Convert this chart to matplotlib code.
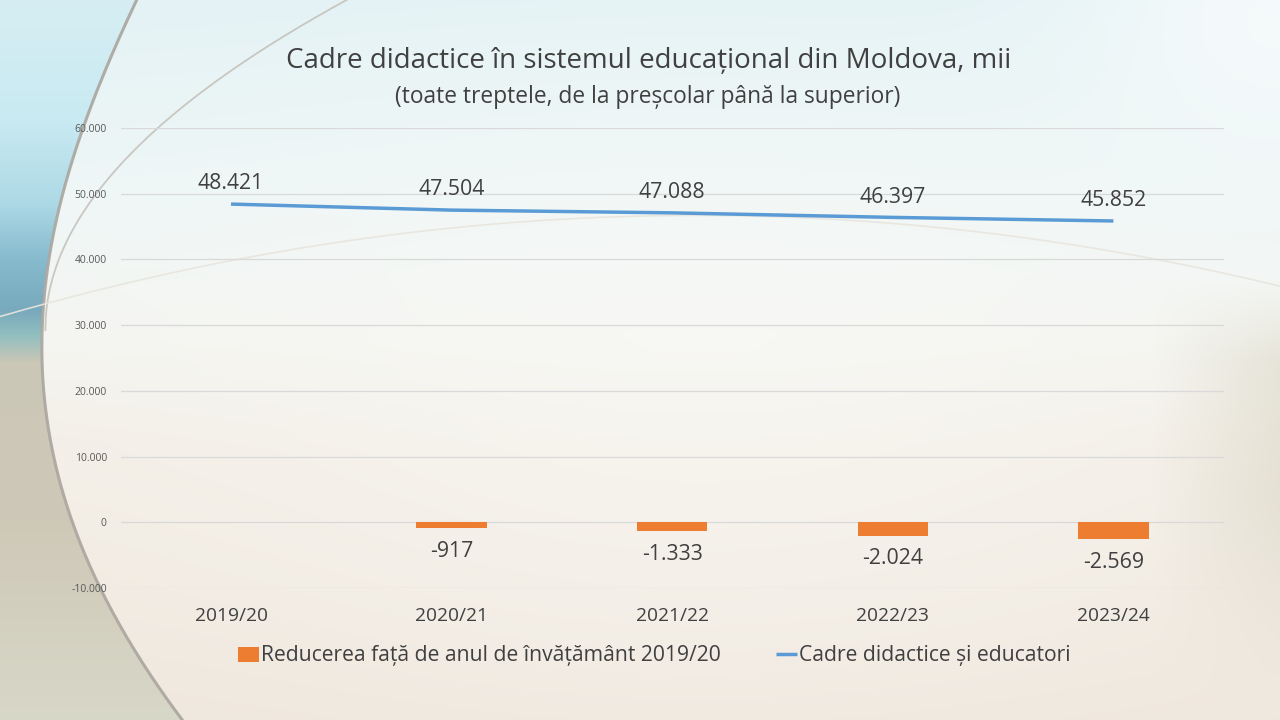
import numpy as np
import matplotlib
matplotlib.use("Agg")
import matplotlib.pyplot as plt

plt.rcParams['font.family'] = ['Open Sans', 'DejaVu Sans']

years = ["2019/20", "2020/21", "2021/22", "2022/23", "2023/24"]
teachers = [48421, 47504, 47088, 46397, 45852]
teacher_labels = ["48.421", "47.504", "47.088", "46.397", "45.852"]
reduction = [None, -917, -1333, -2024, -2569]
reduction_labels = ["", "-917", "-1.333", "-2.024", "-2.569"]
yticks = [-10000, 0, 10000, 20000, 30000, 40000, 50000, 60000]
ytick_labels = ["-10.000", "0", "10.000", "20.000", "30.000", "40.000", "50.000", "60.000"]

title = "Cadre didactice în sistemul educațional din Moldova, mii"
subtitle = "(toate treptele, de la preșcolar până la superior)"
legend_bar = "Reducerea față de anul de învățământ 2019/20"
legend_line = "Cadre didactice și educatori"

W, H = 1280, 720
fig = plt.figure(figsize=(12.8, 7.2), dpi=100)

# ---------- decorative background ----------
bg = fig.add_axes([0, 0, 1, 1])
py, px = np.mgrid[0:H, 0:W].astype(float)

def col(h):
    h = h.lstrip('#')
    return np.array([int(h[i:i + 2], 16) / 255 for i in (0, 2, 4)])

def vgrad(stops):
    ys = [s[0] for s in stops]
    out = np.zeros((H, W, 3))
    for k in range(3):
        out[..., k] = np.interp(py, ys, [col(s[1])[k] for s in stops])
    return out

img = vgrad([(0, '#e3f2f5'), (200, '#eef6f6'), (330, '#f4f5f1'),
             (450, '#f3eee6'), (720, '#efe7dd')])
c = np.exp(-(((px - 700) / 520) ** 2 + ((py - 380) / 330) ** 2))[..., None]
img = img * (1 - 0.45 * c) + col('#fbfbf8') * 0.45 * c
tr = np.exp(-(((px - 1280) / 200) ** 2 + ((py - 0) / 160) ** 2))[..., None]
img = img * (1 - 0.6 * tr) + col('#ffffff') * 0.6 * tr
re = (np.clip((px - 1150) / 130, 0, 1) * np.clip((py - 280) / 80, 0, 1)
      * np.clip((700 - py) / 200, 0, 1))[..., None]
img = img * (1 - 0.5 * re) + col('#d8d4c2') * 0.5 * re

# smooth outer arc x(y)
arc_y = np.array([0, 69, 138, 252, 358, 459, 551, 620, 720])
arc_x = np.array([137, 105, 80, 50, 43, 53, 83, 118, 182])
arc_p = np.polyfit(arc_y, arc_x, 4)
xa = np.polyval(arc_p, py)
left_col = vgrad([(0, '#d6eef3'), (120, '#c9eaf2'), (205, '#acd8e5'),
                  (260, '#86bacd'), (310, '#78a9bc'), (335, '#92bfc0'),
                  (362, '#cbc7b7'), (520, '#cec8b7'), (720, '#d8d8c8')])
mask = np.clip((xa - px) / 2.0, 0, 1)[..., None]
img = img * (1 - mask) + left_col * mask

bg.imshow(np.clip(img, 0, 1), extent=[0, W, H, 0], aspect="auto", interpolation="bilinear")
ys_f = np.linspace(0, 720, 300)
bg.plot(np.polyval(arc_p, ys_f), ys_f, color="#a9a59e", lw=2.2, alpha=0.9)
in_y = np.array([0, 69, 151, 243, 330])
in_x = np.array([347, 233, 133, 67, 45])
in_p = np.polyfit(in_y, in_x, 2)
ys_i = np.linspace(0, 330, 150)
bg.plot(np.polyval(in_p, ys_i), ys_i, color="#c0bcb5", lw=1.3, alpha=0.8)
sw_x = np.array([0, 200, 420, 640, 860, 1080, 1280])
sw_y = np.array([321, 262, 228, 216, 225, 250, 282])
sw_p = np.polyfit(sw_x, sw_y, 2)
xs_s = np.linspace(0, 1280, 300)
bg.plot(xs_s, np.polyval(sw_p, xs_s), color="#e8e5de", lw=1.2, alpha=0.9)
bg.set_xlim(0, W); bg.set_ylim(H, 0); bg.axis("off")

# ---------- chart ----------
ax = fig.add_axes([120.7 / W, (H - 588) / H, 1103 / W, 460 / H])
ax.patch.set_alpha(0)
x = np.arange(len(years))
bar_vals = [0 if v is None else v for v in reduction]
bars = ax.bar(x, bar_vals, width=0.32, color="#ED7D31", zorder=3)
line, = ax.plot(x, teachers, color="#5B9BD5", lw=2.5, zorder=4, solid_capstyle="butt")

for xi, v, lab in zip(x, teachers, teacher_labels):
    ax.annotate(lab, (xi, v), xytext=(0, 7), textcoords="offset points",
                ha="center", va="bottom", fontsize=15.3, color="#404040")
for xi, v, lab in zip(x, bar_vals, reduction_labels):
    if lab:
        ax.annotate(lab, (xi, v), xytext=(0, -9), textcoords="offset points",
                    ha="center", va="top", fontsize=15.3, color="#404040")

ax.set_ylim(-10000, 60000)
ax.set_xlim(-0.5, 4.5)
ax.set_yticks(yticks)
ax.set_yticklabels(ytick_labels, fontsize=7.5, color="#595959")
ax.set_xticks(x)
ax.set_xticklabels(years, fontsize=13.8, color="#404040")
ax.tick_params(length=0)
ax.tick_params(axis="x", pad=14)
ax.tick_params(axis="y", pad=10)
ax.grid(axis="y", color="#d9d9d9", lw=0.9, zorder=0)
for s in ax.spines.values():
    s.set_visible(False)

fig.text(649 / W, 1 - 61 / H, title, ha="center", va="center", fontsize=20, color="#404040")
fig.text(648 / W, 1 - 97 / H, subtitle, ha="center", va="center", fontsize=16.4, color="#404040")

leg = fig.legend([bars, line], [legend_bar, legend_line],
                 loc="center", bbox_to_anchor=(654 / W, 1 - 656 / H), ncol=2,
                 frameon=False, fontsize=15.2, handlelength=1.0, handletextpad=0.1,
                 columnspacing=2.6)
for txt in leg.get_texts():
    txt.set_color("#404040")

fig.savefig("out.png", dpi=100)
